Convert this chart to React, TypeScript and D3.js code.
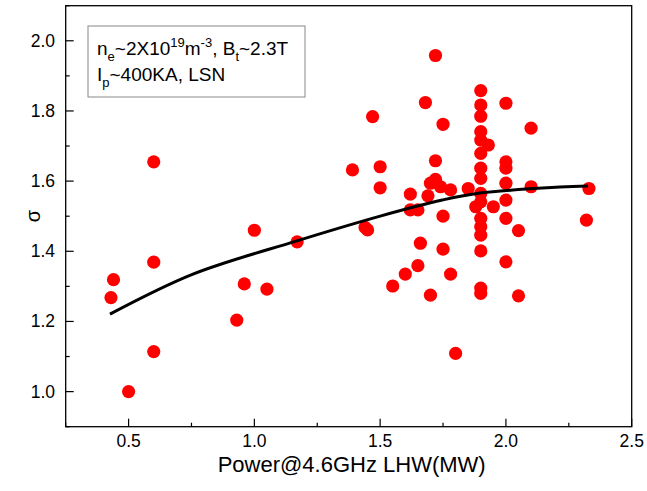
import * as d3 from "d3";

// scatter: LHW power (MW) vs sigma
const powerMW = [
  0.43, 0.44, 0.5, 0.6, 0.6, 0.6, 0.93, 0.96, 1.0, 1.05, 1.17,
  1.39, 1.44, 1.45, 1.47, 1.5, 1.5, 1.55, 1.6, 1.62, 1.62, 1.65, 1.65, 1.66, 1.68,
  1.69, 1.7, 1.7, 1.72, 1.72, 1.72, 1.74, 1.75, 1.75, 1.75, 1.78, 1.78, 1.8, 1.85, 1.88,
  1.9, 1.9, 1.9, 1.9, 1.9, 1.9, 1.9, 1.9, 1.9, 1.9, 1.9, 1.9, 1.9, 1.9, 1.9, 1.9,
  1.93, 1.95,
  2.0, 2.0, 2.0, 2.0, 2.0, 2.0, 2.0,
  2.05, 2.05, 2.1, 2.1, 2.33, 2.32,
];
const sigma = [
  1.268, 1.319, 1.0, 1.655, 1.369, 1.114, 1.204, 1.307, 1.46, 1.292, 1.427,
  1.632, 1.468, 1.461, 1.784, 1.641, 1.581, 1.301, 1.335, 1.563, 1.518, 1.518, 1.359, 1.423, 1.824,
  1.558, 1.594, 1.275, 1.958, 1.658, 1.605, 1.584, 1.762, 1.5, 1.406, 1.575, 1.335, 1.109, 1.579, 1.527,
  1.858, 1.817, 1.785, 1.741, 1.717, 1.679, 1.637, 1.608, 1.565, 1.541, 1.494, 1.47, 1.446, 1.401, 1.295, 1.28,
  1.703, 1.527,
  1.822, 1.655, 1.637, 1.594, 1.546, 1.494, 1.37,
  1.459, 1.273, 1.751, 1.584, 1.579, 1.489,
];

// fit curve
const fitX = [0.426, 0.756, 1.166, 1.504, 1.747, 1.897, 2.215, 2.326];
const fitY = [1.221, 1.335, 1.429, 1.501, 1.546, 1.566, 1.583, 1.586];

const xMajor = [0.5, 1.0, 1.5, 2.0, 2.5];
const xMinor = [0.25, 0.75, 1.25, 1.75, 2.25];
const yMajor = [1.0, 1.2, 1.4, 1.6, 1.8, 2.0];
const yMinor = [0.9, 1.1, 1.3, 1.5, 1.7, 1.9, 2.1];

const W = 647;
const H = 491;
const left = 65.7;
const right = 631.7;
const top = 5.7;
const bottom = 426.7;
const font = "'Liberation Sans', Arial, sans-serif";

export default function App() {
  const x = d3.scaleLinear().domain([0.25, 2.5]).range([left, right]);
  const y = d3.scaleLinear().domain([0.9, 2.1]).range([bottom, top]);

  const points = powerMW.map((p, i) => ({ p, s: sigma[i] }));
  const line = d3
    .line<number>()
    .x((d) => x(d))
    .y((d, i) => y(fitY[i]))
    .curve(d3.curveCatmullRom);

  return (
    <svg
      width={W}
      height={H}
      style={{ position: "absolute", left: 0, top: 0, background: "#fff" }}
      fontFamily={font}
    >
      <rect x={0} y={0} width={W} height={H} fill="#fff" />

      {/* data */}
      {points.map((d, i) => (
        <circle key={i} cx={x(d.p)} cy={y(d.s)} r={6.6} fill="#ff0000" />
      ))}
      <path d={line(fitX) ?? ""} fill="none" stroke="#000" strokeWidth={3} />

      {/* frame */}
      <rect
        x={left}
        y={top}
        width={right - left}
        height={bottom - top}
        fill="none"
        stroke="#000"
        strokeWidth={1.3}
      />

      {/* x ticks */}
      {xMajor.map((t) => (
        <g key={"xM" + t}>
          <line x1={x(t)} x2={x(t)} y1={bottom} y2={bottom - 8} stroke="#000" strokeWidth={1.2} />
          <text x={x(t)} y={447} textAnchor="middle" fontSize={17.5} fill="#000">
            {t.toFixed(1)}
          </text>
        </g>
      ))}
      {xMinor.map((t) => (
        <line key={"xm" + t} x1={x(t)} x2={x(t)} y1={bottom} y2={bottom - 4} stroke="#000" strokeWidth={1.2} />
      ))}

      {/* y ticks */}
      {yMajor.map((t) => (
        <g key={"yM" + t}>
          <line x1={left} x2={left + 8} y1={y(t)} y2={y(t)} stroke="#000" strokeWidth={1.2} />
          <text x={55} y={y(t) + 6} textAnchor="end" fontSize={17.5} fill="#000">
            {t.toFixed(1)}
          </text>
        </g>
      ))}
      {yMinor.map((t) => (
        <line key={"ym" + t} x1={left} x2={left + 4} y1={y(t)} y2={y(t)} stroke="#000" strokeWidth={1.2} />
      ))}

      {/* axis titles */}
      <text x={(left + right) / 2 + 3} y={472} textAnchor="middle" fontSize={22} fill="#000">
        Power@4.6GHz LHW(MW)
      </text>
      <text
        transform={`translate(40,${y(1.5)}) rotate(-90)`}
        textAnchor="middle"
        fontSize={20}
        fill="#000"
      >
        σ
      </text>

      {/* annotation box */}
      <rect x={88} y={26} width={217} height={71} fill="#fff" stroke="#888" strokeWidth={1} />
      <text x={97} y={55} fontSize={19} fill="#000">
        n<tspan fontSize={13} dy={6}>e</tspan>
        <tspan dy={-6}>~2X10</tspan>
        <tspan fontSize={13} dy={-8}>19</tspan>
        <tspan dy={8}>m</tspan>
        <tspan fontSize={13} dy={-8}>-3</tspan>
        <tspan dy={8}>, B</tspan>
        <tspan fontSize={13} dy={6}>t</tspan>
        <tspan dy={-6}>~2.3T</tspan>
      </text>
      <text x={97} y={81} fontSize={19} fill="#000">
        I<tspan fontSize={13} dy={6}>p</tspan>
        <tspan dy={-6}>~400KA, LSN</tspan>
      </text>
    </svg>
  );
}
